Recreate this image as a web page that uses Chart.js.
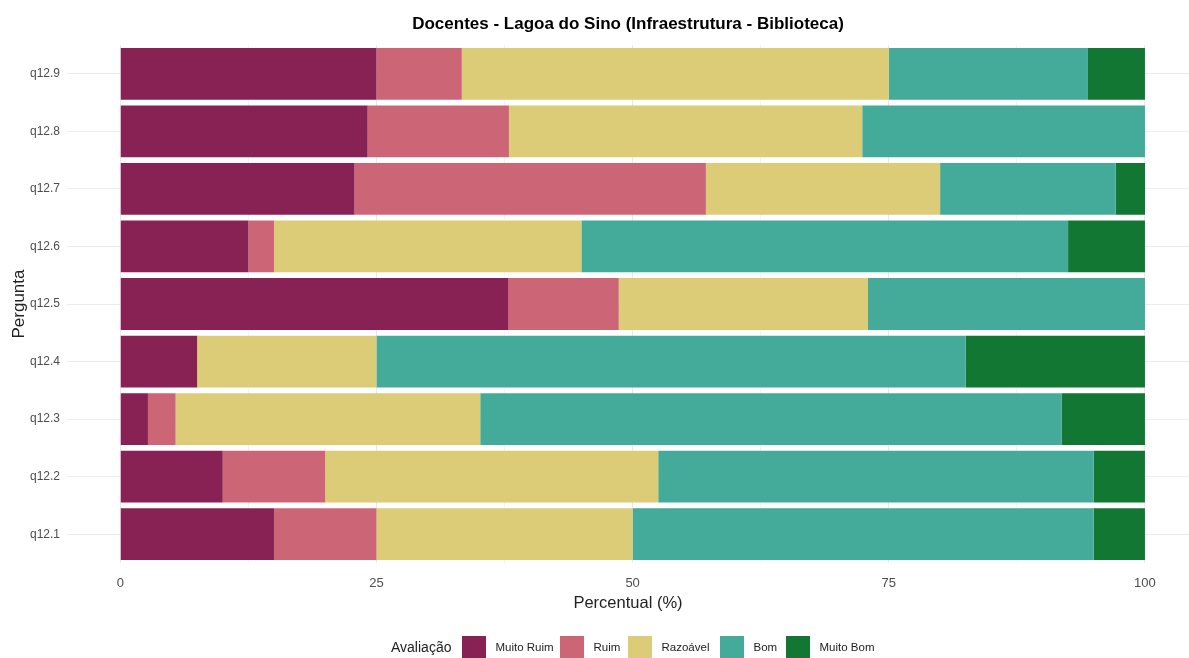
<!DOCTYPE html>
<html>
<head>
<meta charset="utf-8">
<script src="https://cdn.jsdelivr.net/npm/chart.js@4.4.0/dist/chart.umd.min.js"></script>
<style>
  html, body { margin: 0; padding: 0; background: #fff; }
  #wrap { width: 1189px; height: 658px; }
</style>
</head>
<body>
<div id="wrap"><canvas id="myChart" width="1189" height="658"></canvas></div>
<script>
// perguntas (de cima para baixo)
var perguntas = ['q12.9', 'q12.8', 'q12.7', 'q12.6', 'q12.5', 'q12.4', 'q12.3', 'q12.2', 'q12.1'];
var categorias = ['Muito Ruim', 'Ruim', 'Razoável', 'Bom', 'Muito Bom'];
var cores = ['#882255', '#CC6677', '#DDCC77', '#44AA99', '#117733'];

// percentuais por avaliacao
var muitoRuim = [25, 24.14, 22.86, 12.5, 37.84, 7.5, 2.70, 10, 15];
var ruim      = [8.33, 13.79, 34.29, 2.5, 10.81, 0, 2.70, 10, 10];
var razoavel  = [41.67, 34.48, 22.86, 30, 24.32, 17.5, 29.73, 32.5, 25];
var bom       = [19.44, 27.59, 17.14, 47.5, 27.03, 57.5, 56.76, 42.5, 45];
var muitoBom  = [5.56, 0, 2.86, 7.5, 0, 17.5, 8.11, 5, 5];

var xTicks = [0, 12.5, 25, 37.5, 50, 62.5, 75, 87.5, 100];

var series = [muitoRuim, ruim, razoavel, bom, muitoBom];
var fonte = '"Liberation Sans", Arial, sans-serif';

var datasets = series.map(function(valores, i) {
  return {
    label: categorias[i],
    data: valores,
    backgroundColor: cores[i],
    borderWidth: 0,
    barPercentage: 0.9,
    categoryPercentage: 1.0
  };
});

// legenda desenhada embaixo, no estilo do ggplot
var legendaPlugin = {
  id: 'legendaBaixo',
  afterDraw: function(chart) {
    var ctx = chart.ctx;
    var y = 648;
    ctx.save();
    ctx.textBaseline = 'middle';
    ctx.fillStyle = '#222';
    ctx.font = '14px ' + fonte;
    ctx.textAlign = 'left';
    ctx.fillText('Avaliação', 391, y);
    var boxX = [462, 560, 628, 720, 786];
    chart.data.datasets.forEach(function(ds, i) {
      ctx.fillStyle = ds.backgroundColor;
      ctx.fillRect(boxX[i], y - 12, 24, 24);
      ctx.fillStyle = '#222';
      ctx.font = '11.5px ' + fonte;
      ctx.fillText(ds.label, boxX[i] + 33.5, y);
    });
    ctx.restore();
  }
};

var ctx = document.getElementById('myChart').getContext('2d');
var chart = new Chart(ctx, {
  type: 'bar',
  data: {
    labels: perguntas,
    datasets: datasets
  },
  plugins: [legendaPlugin],
  options: {
    responsive: false,
    animation: false,
    indexAxis: 'y',
    layout: { padding: { left: 0, right: 0, top: 0, bottom: 0 } },
    plugins: {
      legend: { display: false },
      tooltip: { enabled: false },
      title: {
        display: true,
        fullSize: false,
        text: 'Docentes - Lagoa do Sino (Infraestrutura - Biblioteca)',
        color: '#000',
        font: { family: fonte, size: 17, weight: 'bold' },
        padding: { top: 14, bottom: 10.6 }
      }
    },
    scales: {
      x: {
        stacked: true,
        min: -5.2,
        max: 104.3,
        afterBuildTicks: function(scale) {
          scale.ticks = xTicks.map(function(v) { return { value: v }; });
        },
        afterFit: function(scale) { scale.height = 95; },
        border: { display: false },
        grid: {
          drawTicks: false,
          color: function(c) {
            return (c.tick && c.tick.value % 25 === 0) ? '#e8e8e8' : '#f4f4f4';
          },
          lineWidth: 1
        },
        ticks: {
          padding: 13,
          color: '#4d4d4d',
          font: { family: fonte, size: 13 },
          callback: function(v) { return v % 25 === 0 ? v : ''; }
        },
        title: {
          display: true,
          text: 'Percentual (%)',
          color: '#222',
          font: { family: fonte, size: 16.5 },
          padding: { top: 4, bottom: 45 }
        }
      },
      y: {
        stacked: true,
        afterFit: function(scale) { scale.width = 67; },
        border: { display: false },
        grid: {
          offset: false,
          drawTicks: false,
          color: '#ececec'
        },
        ticks: {
          padding: 7,
          color: '#4d4d4d',
          font: { family: fonte, size: 12 }
        },
        title: {
          display: true,
          text: 'Pergunta',
          color: '#222',
          font: { family: fonte, size: 17 },
          padding: { top: 9, bottom: 0 }
        }
      }
    }
  }
});
</script>
</body>
</html>
